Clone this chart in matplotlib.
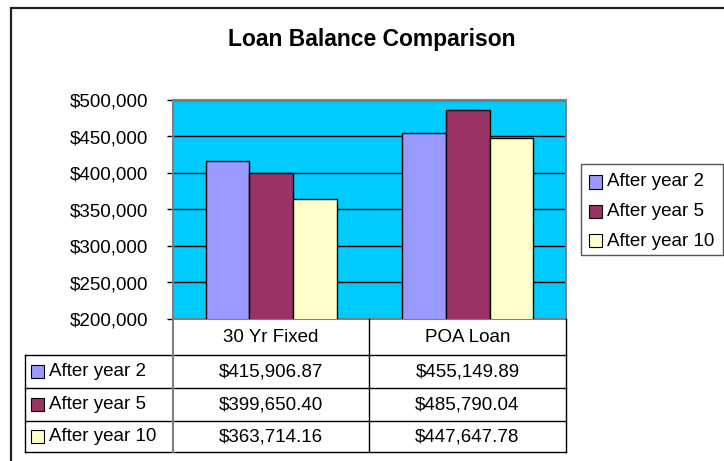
import matplotlib.pyplot as plt
from matplotlib.patches import Rectangle
from matplotlib.lines import Line2D

plt.rcParams['font.family'] = ['Liberation Sans', 'DejaVu Sans']

categories = ['30 Yr Fixed', 'POA Loan']
series_names = ['After year 2', 'After year 5', 'After year 10']
year2 = [415906.87, 455149.89]
year5 = [399650.40, 485790.04]
year10 = [363714.16, 447647.78]
yticks = [200000, 250000, 300000, 350000, 400000, 450000, 500000]

colors = ['#9999FF', '#993366', '#FFFFCC']
W, H = 724, 461

fig = plt.figure(figsize=(W / 100, H / 100), dpi=100)

def fx(x):
    return x / W

def fy(y):
    return 1 - y / H

# outer chart frame (cut off at right/bottom like the screenshot)
fig.patches.append(Rectangle((fx(11), fy(475)), fx(740 - 11), fy(8) - fy(475),
                             transform=fig.transFigure, fill=False,
                             edgecolor='#222222', lw=1.6))

L, T, R, B = 173, 100, 566, 319
ax = fig.add_axes([fx(L), fy(B), fx(R - L), fy(T) - fy(B)])
ax.set_facecolor('#00CCFF')

bw = 1 / 4.5
xs = list(range(len(categories)))
for i, (vals, c) in enumerate(zip([year2, year5, year10], colors)):
    ax.bar([x + (i - 1) * bw for x in xs], vals, width=bw, color=c,
           edgecolor='black', linewidth=1.0, zorder=3, label=series_names[i])

ax.set_xlim(-0.5, len(categories) - 0.5)
ax.set_ylim(yticks[0], yticks[-1])
ax.set_yticks(yticks)
ax.set_yticklabels(['${:,.0f}'.format(v) for v in yticks], fontsize=13.5)
ax.tick_params(axis='y', direction='out', length=4.5, width=1, color='black', pad=13.5)
ax.set_xticks([])
ax.yaxis.grid(True, color='black', linewidth=1.0, zorder=1)
ax.set_axisbelow(True)
for s in ax.spines.values():
    s.set_color('#808080')
    s.set_linewidth(1.5)

fig.text(fx(372), fy(39), 'Loan Balance Comparison', ha='center', va='center',
         fontsize=16.5, fontweight='bold')

# data table below the plot
rows_y = [319, 355, 388, 421, 452]
col_x = [25, 173, 369, 566]

def hline(y, x0, x1, col='black', lw=1.0):
    fig.lines.append(Line2D([fx(x0), fx(x1)], [fy(y), fy(y)],
                            transform=fig.transFigure, color=col, lw=lw))

def vline(x, y0, y1, col='black', lw=1.0):
    fig.lines.append(Line2D([fx(x), fx(x)], [fy(y0), fy(y1)],
                            transform=fig.transFigure, color=col, lw=lw))

for y in rows_y[1:]:
    hline(y, col_x[0], col_x[-1])
vline(col_x[0], rows_y[1], rows_y[-1])
vline(col_x[1], rows_y[0], rows_y[-1], col='#808080', lw=1.5)
vline(col_x[2], rows_y[0], rows_y[-1])
vline(col_x[3], rows_y[0], rows_y[-1])

for j, cat in enumerate(categories):
    cx = (col_x[j + 1] + col_x[j + 2]) / 2
    fig.text(fx(cx), fy((rows_y[0] + rows_y[1]) / 2), cat, ha='center',
             va='center', fontsize=13.5)

for i, (vals, name, c) in enumerate(zip([year2, year5, year10], series_names, colors)):
    cy = (rows_y[i + 1] + rows_y[i + 2]) / 2
    fig.patches.append(Rectangle((fx(31), fy(cy + 6.5)), fx(13), fy(cy - 6.5) - fy(cy + 6.5),
                                 transform=fig.transFigure, facecolor=c,
                                 edgecolor='black', lw=0.8))
    fig.text(fx(49), fy(cy), name, ha='left', va='center', fontsize=13.5)
    for j, v in enumerate(vals):
        cx = (col_x[j + 1] + col_x[j + 2]) / 2
        fig.text(fx(cx), fy(cy), '${:,.2f}'.format(v), ha='center',
                 va='center', fontsize=13.5)

# legend box
fig.patches.append(Rectangle((fx(581), fy(255)), fx(723 - 581), fy(164) - fy(255),
                             transform=fig.transFigure, fill=False,
                             edgecolor='#555555', lw=1.0))
for i, (name, c) in enumerate(zip(series_names, colors)):
    cy = 182 + i * 29.5
    fig.patches.append(Rectangle((fx(589), fy(cy + 6.5)), fx(13), fy(cy - 6.5) - fy(cy + 6.5),
                                 transform=fig.transFigure, facecolor=c,
                                 edgecolor='black', lw=0.8))
    fig.text(fx(607), fy(cy), name, ha='left', va='center', fontsize=13.5)

fig.savefig('out.png', dpi=100)
